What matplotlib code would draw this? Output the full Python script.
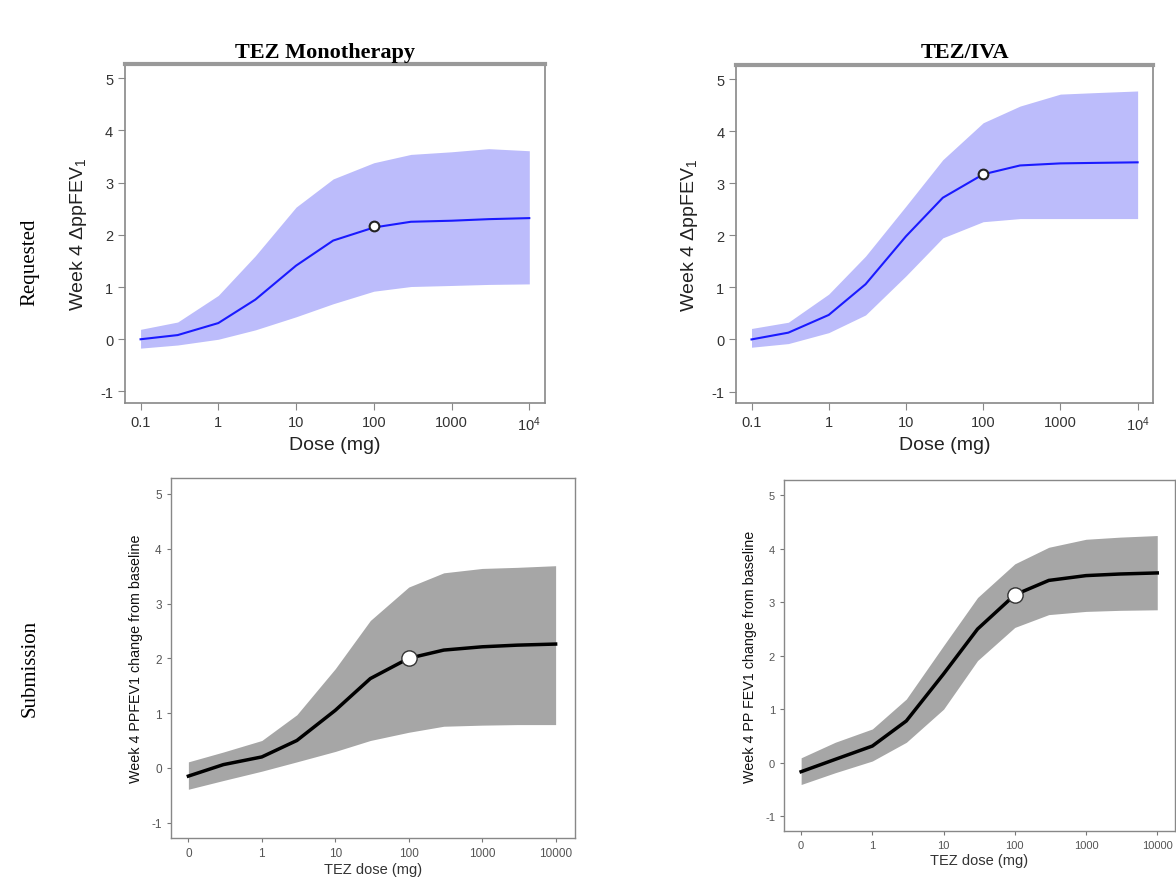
import matplotlib.pyplot as plt
import numpy as np

plt.rcParams['mathtext.default'] = 'regular'
plt.rcParams['font.family'] = ['Liberation Sans', 'DejaVu Sans']

dose = [0.1, 0.3, 1, 3, 10, 30, 100, 300, 1000, 3000, 10000]

# requested analysis (top row)
mono_req_med = [0.0, 0.08, 0.31, 0.76, 1.41, 1.89, 2.14, 2.25, 2.27, 2.30, 2.32]
mono_req_hi = [0.19, 0.33, 0.84, 1.60, 2.53, 3.07, 3.38, 3.54, 3.59, 3.65, 3.61]
mono_req_lo = [-0.17, -0.11, 0.0, 0.18, 0.43, 0.68, 0.92, 1.01, 1.03, 1.05, 1.06]

combo_req_med = [0.0, 0.13, 0.47, 1.06, 1.98, 2.72, 3.17, 3.34, 3.38, 3.39, 3.40]
combo_req_hi = [0.21, 0.33, 0.87, 1.60, 2.56, 3.45, 4.16, 4.48, 4.71, 4.74, 4.77]
combo_req_lo = [-0.15, -0.08, 0.13, 0.47, 1.22, 1.95, 2.26, 2.32, 2.32, 2.32, 2.32]

# submission (bottom row)
mono_sub_med = [-0.15, 0.06, 0.20, 0.50, 1.05, 1.63, 2.00, 2.15, 2.21, 2.24, 2.26]
mono_sub_hi = [0.11, 0.29, 0.50, 0.97, 1.81, 2.69, 3.30, 3.56, 3.64, 3.66, 3.69]
mono_sub_lo = [-0.39, -0.23, -0.06, 0.11, 0.30, 0.50, 0.65, 0.76, 0.78, 0.79, 0.79]

combo_sub_med = [-0.17, 0.06, 0.31, 0.78, 1.66, 2.50, 3.14, 3.41, 3.50, 3.53, 3.55]
combo_sub_hi = [0.09, 0.38, 0.63, 1.19, 2.19, 3.09, 3.72, 4.03, 4.18, 4.22, 4.25]
combo_sub_lo = [-0.41, -0.19, 0.03, 0.38, 1.00, 1.91, 2.53, 2.77, 2.83, 2.85, 2.86]

ref_dose = 100
ref_vals = [2.17, 3.18, 2.00, 3.13]

top_xlabels = ['0.1', '1', '10', '100', '1000', '$10^4$']
bot_xlabels = ['0', '1', '10', '100', '1000', '10000']
xticks = [0.1, 1, 10, 100, 1000, 10000]
yticks = [-1, 0, 1, 2, 3, 4, 5]

fig = plt.figure(figsize=(11.76, 8.78), dpi=100)


def top_panel(rect, med, lo, hi, ref):
    ax = fig.add_axes(rect)
    ax.fill_between(dose, lo, hi, color='#bcbcfb', lw=0)
    ax.plot(dose, med, color='#1a1aff', lw=1.5)
    ax.plot([ref_dose], [ref], 'o', ms=7, mfc='white', mec='#222222', mew=1.5)
    ax.set_xscale('log')
    ax.set_xlim(10**-1.2, 10**4.2)
    ax.set_ylim(-1.22, 5.27)
    ax.set_xticks(xticks)
    ax.set_xticklabels(top_xlabels)
    ax.minorticks_off()
    ax.set_yticks(yticks)
    ax.set_yticklabels([str(v) for v in yticks])
    ax.tick_params(colors='#888888', labelcolor='#333333', labelsize=10.5, length=5)
    for s in ax.spines.values():
        s.set_color('#888888')
        s.set_linewidth(1.2)
    ax.spines['top'].set_linewidth(3)
    ax.spines['top'].set_color('#999999')
    ax.set_xlabel('Dose (mg)', fontsize=14, color='#222222', labelpad=2)
    ax.set_ylabel(r'Week 4 $\Delta$ppFEV$_1$', fontsize=14, color='#222222', labelpad=8)
    return ax


def bottom_panel(rect, med, lo, hi, ref, ylabel, xlim, fs):
    ax = fig.add_axes(rect)
    ax.fill_between(dose, lo, hi, color='#a6a6a6', lw=0)
    ax.plot(dose, med, color='black', lw=2.5)
    ax.plot([ref_dose], [ref], 'o', ms=11, mfc='white', mec='#333333', mew=1)
    ax.set_xscale('log')
    ax.set_xlim(*xlim)
    ax.set_ylim(-1.28, 5.29)
    ax.set_xticks(xticks)
    ax.set_xticklabels(bot_xlabels)
    ax.minorticks_off()
    ax.set_yticks(yticks)
    ax.set_yticklabels([str(v) for v in yticks])
    ax.tick_params(colors='#777777', labelcolor='#555555', labelsize=fs, length=3)
    for s in ax.spines.values():
        s.set_color('#888888')
        s.set_linewidth(1)
    ax.set_xlabel('TEZ dose (mg)', fontsize=10.5, color='#333333', labelpad=2)
    ax.set_ylabel(ylabel, fontsize=10.3, color='#111111', labelpad=6)
    return ax


ax1 = top_panel([0.1063, 0.5399, 0.357, 0.386], mono_req_med, mono_req_lo, mono_req_hi, ref_vals[0])
ax2 = top_panel([0.6259, 0.5399, 0.3546, 0.385], combo_req_med, combo_req_lo, combo_req_hi, ref_vals[1])
ax3 = bottom_panel([0.1452, 0.0444, 0.3435, 0.41], mono_sub_med, mono_sub_lo, mono_sub_hi, ref_vals[2],
                   'Week 4 PPFEV1 change from baseline', (10**-1.24, 10**4.26), 8.5)
ax4 = bottom_panel([0.6667, 0.0524, 0.3325, 0.3998], combo_sub_med, combo_sub_lo, combo_sub_hi, ref_vals[3],
                   'Week 4 PP FEV1 change from baseline', (10**-1.24, 10**4.25), 8)

# column titles and row labels
fig.text(325 / 1176, 1 - 53 / 878, 'TEZ Monotherapy', ha='center', va='center',
         fontsize=16, fontweight='bold', family='Liberation Serif')
fig.text(965 / 1176, 1 - 53 / 878, 'TEZ/IVA', ha='center', va='center',
         fontsize=16, fontweight='bold', family='Liberation Serif')
fig.text(30 / 1176, 1 - 262 / 878, 'Requested', ha='center', va='center', rotation=90,
         fontsize=15, family='Liberation Serif')
fig.text(30 / 1176, 1 - 668 / 878, 'Submission', ha='center', va='center', rotation=90,
         fontsize=15, family='Liberation Serif')

fig.savefig('out.png', dpi=100)
